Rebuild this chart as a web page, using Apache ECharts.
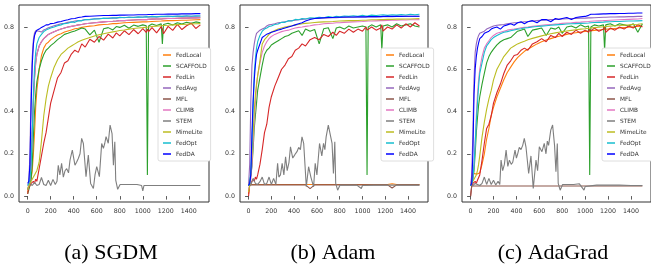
<!DOCTYPE html>
<html>
<head>
<meta charset="utf-8">
<script src="https://cdn.jsdelivr.net/npm/echarts@6/dist/echarts.min.js"></script>
<style>
  html, body { margin: 0; padding: 0; background: #fff; }
  #chart { width: 651px; height: 271px; }
</style>
</head>
<body>
<div id="chart"></div>
<script>
// rounds shared by the smooth-ish curves
const rounds = [0, 10, 20, 30, 40, 50, 60, 70, 80,
  100, 120, 140, 160, 180, 200, 230, 260, 290,
  320, 350, 380, 410, 440, 470, 500, 540, 580,
  620, 660, 700, 740, 770, 800, 840, 880, 920,
  960, 1000, 1030, 1040, 1050, 1080, 1120, 1160, 1170,
  1180, 1220, 1260, 1300, 1340, 1380, 1420, 1460, 1500]

// STEM is spiky, it gets its own rounds
const stemRounds = [0, 20, 40, 60, 80, 100, 120, 140, 160, 180,
  200, 220, 240, 255, 266, 280, 295, 310, 325, 339,
  355, 368, 388, 400, 411, 425, 440, 455, 469, 484,
  507, 527, 547, 571, 585, 600, 623, 643, 658, 670,
  681, 700, 716, 733, 745, 757, 765, 782, 803, 850,
  900, 950, 990, 1000, 1010, 1100, 1200, 1300, 1400, 1500]

const xTicks = [0, 200, 400, 600, 800, 1000, 1200, 1400]
const yTicks = [0, 0.2, 0.4, 0.6, 0.8]

const methods = ['FedLocal', 'SCAFFOLD', 'FedLin', 'FedAvg', 'MFL', 'CLIMB', 'STEM', 'MimeLite', 'FedOpt', 'FedDA']
const colors = ['#ff7f0e', '#2ca02c', '#d62728', '#9467bd', '#8c564b', '#e377c2', '#7f7f7f', '#bcbd22', '#17becf', '#0000ff']
const captions = ['(a) SGDM', '(b) Adam', '(c) AdaGrad']

// ---- (a) SGDM ----
const sgdmFedLocal = [0.02, 0.04, 0.06, 0.08, 0.12, 0.2, 0.3, 0.42, 0.5,
  0.6, 0.665, 0.7, 0.72, 0.728, 0.74, 0.752, 0.762, 0.768,
  0.776, 0.781, 0.786, 0.792, 0.794, 0.798, 0.801, 0.804, 0.806,
  0.81, 0.812, 0.813, 0.816, 0.816, 0.818, 0.82, 0.821, 0.822,
  0.823, 0.824, 0.824, 0.825, 0.825, 0.826, 0.827, 0.828, 0.828,
  0.829, 0.83, 0.83, 0.831, 0.832, 0.832, 0.833, 0.834, 0.835]
const sgdmScaffold = [0.01, 0.03, 0.05, 0.08, 0.15, 0.28, 0.4, 0.48, 0.54,
  0.6, 0.64, 0.67, 0.69, 0.7, 0.712, 0.725, 0.74, 0.752,
  0.765, 0.77, 0.776, 0.781, 0.788, 0.795, 0.79, 0.763, 0.785,
  0.728, 0.792, 0.797, 0.786, 0.802, 0.798, 0.808, 0.794, 0.809,
  0.803, 0.81, 0.806, 0.1, 0.805, 0.814, 0.807, 0.815, 0.72,
  0.812, 0.818, 0.809, 0.82, 0.814, 0.822, 0.817, 0.824, 0.82]
const sgdmFedLin = [0.01, 0.04, 0.05, 0.06, 0.055, 0.07, 0.06, 0.08, 0.07,
  0.13, 0.19, 0.25, 0.3, 0.37, 0.44, 0.5, 0.56, 0.585,
  0.63, 0.64, 0.672, 0.69, 0.68, 0.72, 0.705, 0.742, 0.728,
  0.755, 0.738, 0.766, 0.748, 0.772, 0.758, 0.782, 0.764, 0.788,
  0.768, 0.792, 0.774, 0.79, 0.778, 0.797, 0.772, 0.802, 0.79,
  0.768, 0.803, 0.784, 0.812, 0.788, 0.806, 0.818, 0.793, 0.81]
const sgdmFedAvg = [0.05, 0.06, 0.2, 0.5, 0.66, 0.74, 0.772, 0.782, 0.776,
  0.78, 0.776, 0.786, 0.79, 0.796, 0.8, 0.806, 0.81, 0.815,
  0.818, 0.822, 0.824, 0.828, 0.83, 0.832, 0.835, 0.836, 0.838,
  0.84, 0.84, 0.842, 0.842, 0.843, 0.844, 0.845, 0.845, 0.846,
  0.846, 0.847, 0.847, 0.847, 0.848, 0.848, 0.848, 0.849, 0.849,
  0.849, 0.849, 0.85, 0.85, 0.85, 0.851, 0.851, 0.851, 0.852]
const sgdmMfl = [0.03, 0.05, 0.08, 0.15, 0.3, 0.45, 0.56, 0.63, 0.67,
  0.71, 0.73, 0.745, 0.755, 0.765, 0.77, 0.778, 0.785, 0.79,
  0.795, 0.8, 0.803, 0.806, 0.81, 0.812, 0.815, 0.818, 0.82,
  0.822, 0.824, 0.826, 0.827, 0.828, 0.83, 0.83, 0.832, 0.833,
  0.834, 0.835, 0.835, 0.836, 0.836, 0.837, 0.838, 0.838, 0.839,
  0.839, 0.84, 0.84, 0.841, 0.842, 0.842, 0.843, 0.843, 0.844]
const sgdmClimb = [0.03, 0.05, 0.08, 0.15, 0.3, 0.45, 0.56, 0.63, 0.67,
  0.71, 0.73, 0.745, 0.755, 0.765, 0.77, 0.778, 0.785, 0.79,
  0.795, 0.8, 0.803, 0.806, 0.81, 0.812, 0.815, 0.818, 0.82,
  0.822, 0.824, 0.826, 0.827, 0.828, 0.83, 0.83, 0.832, 0.833,
  0.834, 0.835, 0.835, 0.836, 0.836, 0.837, 0.838, 0.838, 0.839,
  0.839, 0.84, 0.84, 0.841, 0.842, 0.842, 0.843, 0.843, 0.844]
const sgdmStem = [0.03, 0.06, 0.05, 0.065, 0.05, 0.055, 0.088, 0.055, 0.05, 0.075,
  0.05, 0.079, 0.055, 0.07, 0.146, 0.1, 0.155, 0.09, 0.12, 0.13,
  0.11, 0.17, 0.218, 0.18, 0.146, 0.16, 0.178, 0.2, 0.273, 0.249,
  0.092, 0.194, 0.06, 0.036, 0.1, 0.139, 0.092, 0.249, 0.226, 0.25,
  0.281, 0.25, 0.336, 0.296, 0.146, 0.257, 0.076, 0.032, 0.055, 0.055,
  0.055, 0.055, 0.05, 0.025, 0.05, 0.05, 0.05, 0.05, 0.05, 0.05]
const sgdmMimeLite = [0.03, 0.05, 0.06, 0.07, 0.08, 0.09, 0.1, 0.11, 0.12,
  0.16, 0.26, 0.38, 0.46, 0.52, 0.56, 0.61, 0.645, 0.67,
  0.685, 0.7, 0.71, 0.72, 0.73, 0.737, 0.743, 0.75, 0.757,
  0.763, 0.768, 0.773, 0.777, 0.78, 0.783, 0.786, 0.79, 0.793,
  0.795, 0.797, 0.799, 0.8, 0.8, 0.802, 0.804, 0.806, 0.806,
  0.807, 0.808, 0.81, 0.811, 0.812, 0.813, 0.814, 0.815, 0.816]
const sgdmFedOpt = [0.05, 0.06, 0.08, 0.15, 0.3, 0.48, 0.61, 0.68, 0.72,
  0.75, 0.765, 0.778, 0.786, 0.79, 0.795, 0.8, 0.806, 0.81,
  0.816, 0.818, 0.824, 0.822, 0.83, 0.829, 0.835, 0.834, 0.839,
  0.838, 0.842, 0.84, 0.844, 0.842, 0.846, 0.844, 0.847, 0.845,
  0.848, 0.846, 0.849, 0.848, 0.847, 0.85, 0.848, 0.851, 0.849,
  0.85, 0.852, 0.849, 0.852, 0.85, 0.853, 0.851, 0.853, 0.852]
const sgdmFedDA = [0.06, 0.07, 0.15, 0.42, 0.62, 0.72, 0.76, 0.775, 0.785,
  0.79, 0.798, 0.803, 0.81, 0.81, 0.816, 0.818, 0.823, 0.826,
  0.831, 0.834, 0.839, 0.84, 0.845, 0.847, 0.85, 0.851, 0.852,
  0.853, 0.854, 0.854, 0.855, 0.855, 0.856, 0.856, 0.857, 0.857,
  0.858, 0.858, 0.858, 0.859, 0.859, 0.859, 0.86, 0.86, 0.86,
  0.86, 0.861, 0.861, 0.861, 0.862, 0.862, 0.862, 0.863, 0.863]

// ---- (b) Adam ----
const adamFedLocal = [0.01, 0.055, 0.055, 0.055, 0.055, 0.055, 0.055, 0.055, 0.055,
  0.055, 0.055, 0.055, 0.055, 0.055, 0.055, 0.055, 0.055, 0.055,
  0.055, 0.055, 0.055, 0.055, 0.055, 0.055, 0.055, 0.055, 0.055,
  0.055, 0.055, 0.055, 0.055, 0.055, 0.055, 0.055, 0.055, 0.055,
  0.055, 0.055, 0.055, 0.055, 0.055, 0.055, 0.055, 0.055, 0.055,
  0.055, 0.055, 0.058, 0.055, 0.055, 0.055, 0.055, 0.055, 0.055]
const adamScaffold = [0.05, 0.07, 0.1, 0.14, 0.22, 0.32, 0.38, 0.44, 0.5,
  0.56, 0.62, 0.67, 0.69, 0.7, 0.715, 0.725, 0.735, 0.745,
  0.755, 0.76, 0.77, 0.776, 0.782, 0.76, 0.79, 0.78, 0.788,
  0.72, 0.792, 0.796, 0.745, 0.795, 0.8, 0.79, 0.805, 0.795,
  0.8, 0.805, 0.8, 0.1, 0.8, 0.81, 0.8, 0.81, 0.69,
  0.805, 0.81, 0.8, 0.815, 0.805, 0.81, 0.815, 0.805, 0.8]
const adamFedLin = [0.0, 0.05, 0.06, 0.07, 0.08, 0.07, 0.09, 0.08, 0.1,
  0.15, 0.22, 0.3, 0.34, 0.42, 0.47, 0.52, 0.56, 0.6,
  0.62, 0.65, 0.66, 0.69, 0.7, 0.72, 0.71, 0.74, 0.75,
  0.74, 0.765, 0.755, 0.775, 0.76, 0.78, 0.77, 0.79, 0.775,
  0.79, 0.78, 0.8, 0.785, 0.79, 0.8, 0.785, 0.795, 0.81,
  0.78, 0.8, 0.79, 0.81, 0.795, 0.815, 0.8, 0.82, 0.805]
const adamFedAvg = [0.05, 0.15, 0.45, 0.62, 0.68, 0.72, 0.75, 0.77, 0.775,
  0.785, 0.79, 0.795, 0.805, 0.81, 0.812, 0.815, 0.82, 0.822,
  0.825, 0.828, 0.83, 0.832, 0.834, 0.836, 0.838, 0.84, 0.84,
  0.842, 0.842, 0.843, 0.844, 0.844, 0.845, 0.845, 0.846, 0.846,
  0.847, 0.847, 0.847, 0.848, 0.848, 0.848, 0.848, 0.849, 0.849,
  0.849, 0.849, 0.849, 0.85, 0.85, 0.85, 0.85, 0.85, 0.85]
const adamMfl = [0.05, 0.053, 0.053, 0.053, 0.053, 0.053, 0.053, 0.053, 0.053,
  0.053, 0.053, 0.053, 0.053, 0.053, 0.053, 0.053, 0.053, 0.053,
  0.053, 0.053, 0.053, 0.053, 0.053, 0.053, 0.053, 0.035, 0.053,
  0.053, 0.053, 0.053, 0.053, 0.053, 0.053, 0.053, 0.053, 0.053,
  0.053, 0.053, 0.053, 0.053, 0.053, 0.053, 0.053, 0.053, 0.053,
  0.053, 0.053, 0.038, 0.053, 0.053, 0.053, 0.053, 0.053, 0.053]
const adamClimb = [0.03, 0.05, 0.08, 0.15, 0.25, 0.35, 0.44, 0.52, 0.57,
  0.63, 0.68, 0.71, 0.73, 0.745, 0.755, 0.765, 0.772, 0.778,
  0.782, 0.785, 0.79, 0.795, 0.798, 0.8, 0.803, 0.806, 0.81,
  0.812, 0.815, 0.817, 0.818, 0.82, 0.82, 0.822, 0.823, 0.824,
  0.825, 0.826, 0.827, 0.827, 0.828, 0.828, 0.829, 0.83, 0.83,
  0.83, 0.831, 0.832, 0.832, 0.833, 0.833, 0.834, 0.834, 0.835]
const adamStem = [0.05, 0.052, 0.084, 0.06, 0.055, 0.068, 0.09, 0.055, 0.06, 0.09,
  0.055, 0.084, 0.055, 0.155, 0.09, 0.1, 0.155, 0.1, 0.186, 0.12,
  0.16, 0.233, 0.18, 0.19, 0.2, 0.21, 0.23, 0.22, 0.28, 0.249,
  0.044, 0.139, 0.09, 0.044, 0.155, 0.1, 0.249, 0.19, 0.249, 0.22,
  0.28, 0.336, 0.328, 0.249, 0.107, 0.257, 0.06, 0.028, 0.052, 0.052,
  0.052, 0.052, 0.036, 0.05, 0.052, 0.052, 0.052, 0.052, 0.052, 0.052]
const adamMimeLite = [0.02, 0.05, 0.1, 0.2, 0.3, 0.4, 0.48, 0.53, 0.57,
  0.64, 0.72, 0.74, 0.752, 0.765, 0.775, 0.783, 0.79, 0.795,
  0.8, 0.803, 0.806, 0.81, 0.812, 0.815, 0.817, 0.819, 0.821,
  0.823, 0.824, 0.825, 0.826, 0.827, 0.828, 0.829, 0.83, 0.83,
  0.831, 0.832, 0.832, 0.833, 0.833, 0.834, 0.834, 0.835, 0.835,
  0.835, 0.836, 0.836, 0.837, 0.837, 0.838, 0.838, 0.839, 0.84]
const adamFedOpt = [0.05, 0.06, 0.12, 0.25, 0.42, 0.58, 0.65, 0.7, 0.73,
  0.76, 0.78, 0.79, 0.795, 0.802, 0.805, 0.812, 0.814, 0.822,
  0.822, 0.83, 0.828, 0.836, 0.834, 0.84, 0.838, 0.844, 0.842,
  0.846, 0.844, 0.849, 0.846, 0.851, 0.848, 0.852, 0.85, 0.853,
  0.851, 0.855, 0.852, 0.855, 0.853, 0.856, 0.854, 0.857, 0.855,
  0.858, 0.855, 0.858, 0.856, 0.859, 0.857, 0.86, 0.858, 0.86]
const adamFedDA = [0.05, 0.06, 0.1, 0.3, 0.45, 0.55, 0.62, 0.67, 0.69,
  0.72, 0.75, 0.758, 0.766, 0.77, 0.775, 0.78, 0.786, 0.79,
  0.795, 0.8, 0.805, 0.81, 0.815, 0.82, 0.828, 0.835, 0.84,
  0.842, 0.844, 0.845, 0.845, 0.846, 0.846, 0.847, 0.847, 0.847,
  0.848, 0.848, 0.848, 0.848, 0.849, 0.849, 0.849, 0.849, 0.849,
  0.85, 0.85, 0.85, 0.85, 0.85, 0.851, 0.851, 0.851, 0.851]

// ---- (c) AdaGrad ----
const adagradFedLocal = [0.05, 0.08, 0.11, 0.11, 0.105, 0.105, 0.105, 0.105, 0.11,
  0.15, 0.2, 0.27, 0.32, 0.38, 0.42, 0.47, 0.51, 0.55,
  0.585, 0.61, 0.635, 0.655, 0.67, 0.685, 0.695, 0.708, 0.72,
  0.73, 0.738, 0.745, 0.752, 0.756, 0.76, 0.765, 0.77, 0.773,
  0.776, 0.779, 0.781, 0.782, 0.782, 0.784, 0.786, 0.788, 0.789,
  0.789, 0.791, 0.793, 0.795, 0.797, 0.799, 0.801, 0.803, 0.805]
const adagradScaffold = [0.05, 0.06, 0.08, 0.12, 0.2, 0.3, 0.37, 0.43, 0.47,
  0.53, 0.58, 0.63, 0.66, 0.68, 0.695, 0.715, 0.73, 0.74,
  0.745, 0.75, 0.765, 0.78, 0.785, 0.79, 0.755, 0.785, 0.79,
  0.795, 0.76, 0.795, 0.79, 0.8, 0.77, 0.8, 0.805, 0.795,
  0.81, 0.8, 0.805, 0.1, 0.8, 0.81, 0.805, 0.81, 0.69,
  0.81, 0.815, 0.805, 0.815, 0.81, 0.805, 0.815, 0.775, 0.815]
const adagradFedLin = [0.0, 0.05, 0.06, 0.055, 0.07, 0.06, 0.075, 0.07, 0.1,
  0.17, 0.25, 0.32, 0.34, 0.38, 0.44, 0.49, 0.53, 0.58,
  0.62, 0.64, 0.665, 0.67, 0.69, 0.7, 0.69, 0.72, 0.73,
  0.745, 0.73, 0.76, 0.75, 0.77, 0.755, 0.775, 0.765, 0.785,
  0.77, 0.785, 0.775, 0.79, 0.78, 0.795, 0.78, 0.79, 0.8,
  0.775, 0.795, 0.785, 0.8, 0.79, 0.805, 0.795, 0.81, 0.8]
const adagradFedAvg = [0.05, 0.1, 0.3, 0.55, 0.68, 0.72, 0.745, 0.76, 0.77,
  0.775, 0.78, 0.79, 0.795, 0.8, 0.805, 0.808, 0.81, 0.812,
  0.815, 0.818, 0.82, 0.82, 0.822, 0.825, 0.826, 0.828, 0.83,
  0.832, 0.833, 0.835, 0.836, 0.837, 0.838, 0.839, 0.84, 0.84,
  0.841, 0.842, 0.843, 0.843, 0.843, 0.844, 0.845, 0.846, 0.846,
  0.846, 0.847, 0.847, 0.848, 0.848, 0.849, 0.849, 0.85, 0.85]
const adagradMfl = [0.0, 0.048, 0.048, 0.048, 0.048, 0.048, 0.048, 0.048, 0.048,
  0.048, 0.048, 0.048, 0.048, 0.048, 0.048, 0.048, 0.048, 0.048,
  0.048, 0.048, 0.048, 0.048, 0.048, 0.048, 0.048, 0.048, 0.048,
  0.048, 0.048, 0.048, 0.048, 0.048, 0.048, 0.048, 0.048, 0.048,
  0.048, 0.048, 0.048, 0.048, 0.048, 0.048, 0.048, 0.048, 0.048,
  0.048, 0.048, 0.048, 0.048, 0.048, 0.048, 0.048, 0.048, 0.048]
const adagradClimb = [0.05, 0.06, 0.08, 0.15, 0.25, 0.38, 0.48, 0.55, 0.6,
  0.66, 0.7, 0.72, 0.735, 0.75, 0.76, 0.77, 0.775, 0.78,
  0.785, 0.788, 0.79, 0.793, 0.796, 0.798, 0.8, 0.803, 0.806,
  0.808, 0.81, 0.812, 0.814, 0.815, 0.817, 0.819, 0.82, 0.822,
  0.823, 0.825, 0.826, 0.826, 0.827, 0.828, 0.829, 0.83, 0.831,
  0.831, 0.832, 0.833, 0.834, 0.835, 0.836, 0.837, 0.838, 0.84]
const adagradStem = [0.05, 0.05, 0.06, 0.055, 0.05, 0.06, 0.09, 0.055, 0.084, 0.055,
  0.075, 0.052, 0.07, 0.055, 0.17, 0.12, 0.15, 0.218, 0.14, 0.17,
  0.15, 0.16, 0.218, 0.18, 0.2, 0.23, 0.22, 0.24, 0.273, 0.23,
  0.107, 0.19, 0.036, 0.17, 0.12, 0.233, 0.21, 0.249, 0.2, 0.26,
  0.24, 0.312, 0.336, 0.24, 0.115, 0.249, 0.06, 0.028, 0.055, 0.055,
  0.055, 0.058, 0.028, 0.045, 0.052, 0.052, 0.052, 0.052, 0.05, 0.05]
const adagradMimeLite = [0.05, 0.06, 0.07, 0.08, 0.09, 0.1, 0.12, 0.15, 0.19,
  0.28, 0.35, 0.41, 0.46, 0.5, 0.55, 0.6, 0.63, 0.66,
  0.68, 0.7, 0.71, 0.72, 0.727, 0.733, 0.74, 0.746, 0.752,
  0.758, 0.763, 0.768, 0.772, 0.775, 0.778, 0.781, 0.784, 0.787,
  0.79, 0.792, 0.794, 0.795, 0.795, 0.797, 0.799, 0.801, 0.802,
  0.802, 0.804, 0.806, 0.807, 0.809, 0.81, 0.812, 0.813, 0.815]
const adagradFedOpt = [0.05, 0.06, 0.08, 0.15, 0.25, 0.35, 0.44, 0.52, 0.58,
  0.63, 0.68, 0.71, 0.725, 0.74, 0.75, 0.76, 0.768, 0.775,
  0.778, 0.782, 0.786, 0.79, 0.792, 0.795, 0.797, 0.8, 0.802,
  0.804, 0.806, 0.808, 0.81, 0.811, 0.812, 0.814, 0.815, 0.816,
  0.817, 0.818, 0.819, 0.82, 0.82, 0.821, 0.822, 0.823, 0.823,
  0.824, 0.825, 0.826, 0.826, 0.827, 0.828, 0.828, 0.829, 0.83]
const adagradFedDA = [0.05, 0.06, 0.2, 0.48, 0.6, 0.66, 0.7, 0.725, 0.745,
  0.755, 0.77, 0.775, 0.78, 0.79, 0.795, 0.8, 0.79, 0.805,
  0.81, 0.815, 0.808, 0.82, 0.825, 0.815, 0.825, 0.83, 0.82,
  0.835, 0.835, 0.825, 0.84, 0.835, 0.84, 0.845, 0.835, 0.845,
  0.848, 0.85, 0.855, 0.858, 0.86, 0.86, 0.861, 0.862, 0.862,
  0.862, 0.863, 0.863, 0.864, 0.864, 0.865, 0.865, 0.866, 0.866]

const panelValues = [
  [sgdmFedLocal, sgdmScaffold, sgdmFedLin, sgdmFedAvg, sgdmMfl, sgdmClimb, sgdmStem, sgdmMimeLite, sgdmFedOpt, sgdmFedDA],
  [adamFedLocal, adamScaffold, adamFedLin, adamFedAvg, adamMfl, adamClimb, adamStem, adamMimeLite, adamFedOpt, adamFedDA],
  [adagradFedLocal, adagradScaffold, adagradFedLin, adagradFedAvg, adagradMfl, adagradClimb, adagradStem, adagradMimeLite, adagradFedOpt, adagradFedDA]
]

// layout of the three subplots (pixels)
const panels = [
  { left: 19, width: 190, legendLeft: 158, captionX: 111 },
  { left: 240, width: 188, legendLeft: 381, captionX: 333 },
  { left: 462, width: 189, legendLeft: 602, captionX: 553 }
]

const tickFont = 'DejaVu Sans'

const grids = []
const xAxes = []
const yAxes = []
const legends = []
const series = []
const graphics = []

panels.forEach((p, i) => {
  grids.push({
    left: p.left, top: 5, width: p.width, height: 197,
    show: true, borderColor: '#333', borderWidth: 1, backgroundColor: 'transparent'
  })
  xAxes.push({
    type: 'value', gridIndex: i, min: -75, max: 1575,
    axisLine: { show: false },
    axisTick: { customValues: xTicks, length: 3.5, lineStyle: { color: '#333', width: 0.8 } },
    axisLabel: { customValues: xTicks, fontSize: 6.3, color: '#333', margin: 6.5, fontFamily: tickFont,
      formatter: v => String(v) },
    splitLine: { show: false }
  })
  yAxes.push({
    type: 'value', gridIndex: i, min: -0.028, max: 0.904,
    axisLine: { show: false },
    axisTick: { customValues: yTicks, length: 3.5, lineStyle: { color: '#333', width: 0.8 } },
    axisLabel: { customValues: yTicks, fontSize: 6.3, color: '#333', margin: 5, fontFamily: tickFont,
      formatter: v => v.toFixed(1) },
    splitLine: { show: false }
  })
  legends.push({
    data: methods, orient: 'vertical', left: p.legendLeft, top: 48,
    icon: 'rect', itemWidth: 8, itemHeight: 1.5, itemGap: 3,
    padding: [3, 4, 3, 5],
    backgroundColor: '#fff', borderColor: '#d5d5d5', borderWidth: 0.8, borderRadius: 2,
    selectedMode: false,
    textStyle: { fontSize: 5.8, lineHeight: 8, color: '#333', fontFamily: tickFont }
  })
  methods.forEach((name, k) => {
    const vals = panelValues[i][k]
    const xs = name === 'STEM' ? stemRounds : rounds
    if (vals.length !== xs.length) throw new Error('length mismatch ' + i + ' ' + name + ' ' + vals.length)
    series.push({
      name: name, type: 'line', xAxisIndex: i, yAxisIndex: i,
      data: xs.map((r, j) => [r, vals[j]]),
      symbol: 'none', smooth: false,
      lineStyle: { color: colors[k], width: 1.1 },
      itemStyle: { color: colors[k] },
      emphasis: { disabled: true }
    })
  })
  graphics.push({
    type: 'text', x: p.captionX, y: 253,
    style: { text: captions[i], font: '22px "Liberation Serif"', fill: '#000', align: 'center', verticalAlign: 'middle' }
  })
})

const chart = echarts.init(document.getElementById('chart'), null, { renderer: 'canvas' })
chart.setOption({
  animation: false,
  grid: grids,
  xAxis: xAxes,
  yAxis: yAxes,
  legend: legends,
  series: series,
  graphic: graphics
})
</script>
</body>
</html>
